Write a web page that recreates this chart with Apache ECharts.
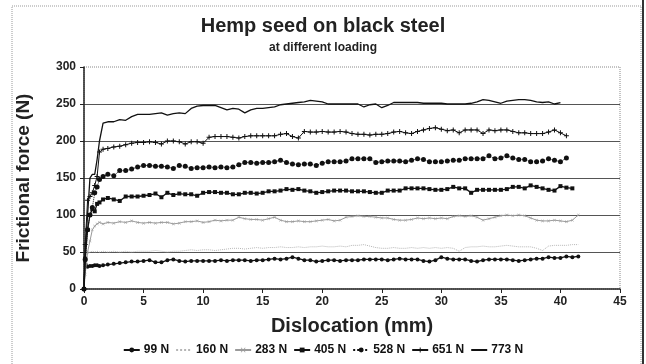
<!DOCTYPE html>
<html><head><meta charset="utf-8">
<script src="https://cdn.jsdelivr.net/npm/echarts@6/dist/echarts.min.js"></script>
<style>html,body{margin:0;padding:0;background:#fff}#c{width:646px;height:364px}</style>
</head><body><div id="c"></div>
<script>
// x positions (mm)
const dist = [0,0.1,0.3,0.5,0.7,0.9,1.1,1.3,1.6,
  2,2.5,3,3.5,4,4.5,5,5.5,6,6.5,
  7,7.5,8,8.5,9,9.5,10,10.5,11,11.5,
  12,12.5,13,13.5,14,14.5,15,15.5,16,16.5,
  17,17.5,18,18.5,19,19.5,20,20.5,21,21.5,
  22,22.5,23,23.5,24,24.5,25,25.5,26,26.5,
  27,27.5,28,28.5,29,29.5,30,30.5,31,31.5,
  32,32.5,33,33.5,34,34.5,35,35.5,36,36.5,
  37,37.5,38,38.5,39,39.5,40,40.5,41,41.5];

const s99 = [0,42,30,31,31,32,32,31,32,
  33,34,35,36,37,37,38,39,36,36,
  39,40,38,37,38,38,38,38,38,39,
  38,39,39,39,38,39,39,40,41,40,
  41,43,41,39,39,37,38,39,39,38,
  39,39,39,40,40,40,40,39,40,41,
  40,40,40,38,37,39,43,41,40,40,
  40,38,37,39,40,40,40,40,39,38,
  39,40,41,41,43,42,42,44,43,44];
const s160 = [0,30,48,50,51,50,51,50,51,
  50,51,50,51,50,51,51,51,52,51,
  50,51,51,52,53,52,53,53,52,53,
  54,55,55,54,55,56,55,56,56,57,
  56,56,57,56,57,57,58,57,57,58,
  57,59,59,60,58,56,55,55,56,55,
  55,56,55,56,55,56,55,56,55,51,
  56,57,57,58,57,57,58,59,58,57,
  57,57,55,52,58,59,59,59,60,60];
const s283 = [0,20,50,65,80,85,88,90,88,
  90,89,91,90,92,90,89,90,89,90,
  90,88,89,91,91,92,90,91,93,92,
  93,93,97,95,94,94,93,95,97,93,
  91,91,92,91,91,92,93,94,92,93,
  97,98,99,98,98,97,96,96,94,93,
  93,94,96,95,96,95,96,95,98,99,
  98,99,97,93,95,97,99,100,99,100,
  99,96,93,92,92,93,92,91,93,100];
const s405 = [0,40,80,100,108,105,115,117,121,
  123,121,119,125,125,125,126,127,129,124,
  130,127,129,128,128,126,130,131,131,130,
  130,128,128,130,130,129,130,132,132,133,
  135,134,135,133,132,130,131,132,133,133,
  133,132,132,132,131,130,130,133,133,133,
  136,136,136,136,135,134,134,135,138,136,
  136,130,134,134,134,134,134,135,138,138,
  136,140,138,136,134,133,139,137,136];
const s528 = [0,40,80,100,110,130,138,148,152,
  155,153,160,160,162,165,167,167,166,166,
  165,163,167,166,163,164,164,165,164,165,
  164,165,168,171,171,170,171,171,172,174,
  171,169,168,169,169,167,170,172,172,172,
  173,176,176,176,176,171,172,173,173,173,
  172,174,176,175,172,172,172,173,174,174,
  176,176,176,176,180,176,177,180,177,175,
  175,172,172,173,176,174,172,177];
const s651 = [0,60,120,125,130,140,152,185,189,
  190,192,193,195,197,198,198,199,198,196,
  200,200,199,196,199,199,197,205,206,206,
  206,205,204,206,207,207,207,207,207,209,
  210,206,204,213,212,212,213,212,212,213,
  212,210,209,209,208,209,209,210,212,213,
  211,210,213,215,217,218,216,214,215,211,
  215,215,215,210,215,214,215,215,213,211,
  211,210,210,210,212,215,211,207];
const s773 = [0,50,100,150,155,155,175,200,224,
  226,226,229,228,233,236,236,236,237,238,
  235,237,238,237,244,247,248,248,248,245,
  242,244,243,238,242,244,244,245,246,249,
  250,251,252,253,255,254,253,250,250,250,
  250,250,250,246,249,250,245,248,252,252,
  252,252,252,251,251,251,251,250,250,250,
  250,251,253,256,255,253,251,254,255,256,
  256,255,253,252,253,250,252];

const names = ['99 N','160 N','283 N','405 N','528 N','651 N','773 N'];
const yTicks = [0,50,100,150,200,250,300];
const xTicks = [0,5,10,15,20,25,30,35,40,45];

function pts(arr){ return arr.map((v,i)=>[dist[i], v]); }

const plus = 'path://M4,0h2v4h4v2h-4v4h-2v-4h-4v-2h4z';
const cross = 'path://M1,0L5,4L9,0L10,1L6,5L10,9L9,10L5,6L1,10L0,9L4,5L0,1z';
const FONT = 'Arial, "Liberation Sans", sans-serif';

const styles = [
  {data:s99,  color:'#111', width:1.3, type:'solid', symbol:'circle', size:4},
  {data:s160, color:'#b5b5b5', width:1, type:'dotted', symbol:'none', size:0},
  {data:s283, color:'#9a9a9a', width:1, type:'solid', symbol:cross, size:3},
  {data:s405, color:'#111', width:1.3, type:'solid', symbol:'rect', size:4},
  {data:s528, color:'#111', width:1, type:'dotted', symbol:'circle', size:5},
  {data:s651, color:'#111', width:1, type:'solid', symbol:plus, size:5},
  {data:s773, color:'#111', width:1.3, type:'solid', symbol:'none', size:0}
];

const chart = echarts.init(document.getElementById('c'), null, {renderer:'canvas'});
chart.setOption({
  backgroundColor:'#fff',
  animation:false,
  textStyle:{fontFamily:FONT},
  title:{
    text:'Hemp seed on black steel',
    subtext:'at different loading',
    left:'center', top:11, itemGap:6,
    textStyle:{fontSize:20, fontWeight:'bold', color:'#222', fontFamily:FONT},
    subtextStyle:{fontSize:12, fontWeight:'bold', color:'#222', fontFamily:FONT}
  },
  legend:{
    bottom:3, left:'center', itemWidth:16, itemHeight:6, itemGap:6,
    textStyle:{fontSize:12, fontWeight:'bold', color:'#111', fontFamily:FONT, padding:[0,0,0,-1]},
    data:names.map((n,i)=> styles[i].symbol==='none'
      ? {name:n, itemStyle:{opacity:0}} : {name:n})
  },
  grid:{left:84, right:26, top:67, bottom:75, show:true, borderColor:'#888', borderType:'dotted', borderWidth:1},
  xAxis:{
    type:'value', min:0, max:45, interval:5,
    name:'Dislocation (mm)', nameLocation:'middle', nameGap:27,
    nameTextStyle:{fontSize:20, fontWeight:'bold', color:'#222', fontFamily:FONT},
    axisLine:{show:true, onZero:false, lineStyle:{color:'#222', width:1.5}},
    axisTick:{show:true, length:4, lineStyle:{color:'#222'}},
    axisLabel:{fontSize:12, fontWeight:'bold', color:'#222', margin:7},
    splitLine:{show:false}
  },
  yAxis:{
    type:'value', min:0, max:300, interval:50,
    name:'Frictional force (N)', nameLocation:'middle', nameGap:51, nameRotate:90,
    nameTextStyle:{fontSize:19, fontWeight:'bold', color:'#222', fontFamily:FONT},
    axisLine:{show:true, lineStyle:{color:'#222', width:1.5}},
    axisTick:{show:true, length:4, lineStyle:{color:'#222'}},
    axisLabel:{fontSize:12, fontWeight:'bold', color:'#222', margin:8},
    splitLine:{show:true, showMinLine:false, showMaxLine:false, lineStyle:{color:'#555', width:1}}
  },
  graphic:[
    {type:'rect', silent:true, z:-1, shape:{x:12,y:6,width:629,height:400},
      style:{fill:'none', stroke:'#999', lineWidth:1, lineDash:[1,1]}},
    {type:'line', silent:true, shape:{x1:643,y1:0,x2:643,y2:364},
      style:{stroke:'#333', lineWidth:2}}
  ],
  series: styles.map((s,i)=>({
    name:names[i], type:'line', data:pts(s.data),
    showSymbol:s.symbol!=='none', symbol:s.symbol, symbolSize:s.size,
    lineStyle:{color:s.color, width:s.width, type:s.type},
    itemStyle:{color:s.color, borderColor:s.color, borderWidth:0},
    z: 2+i
  }))
});
</script></body></html>
